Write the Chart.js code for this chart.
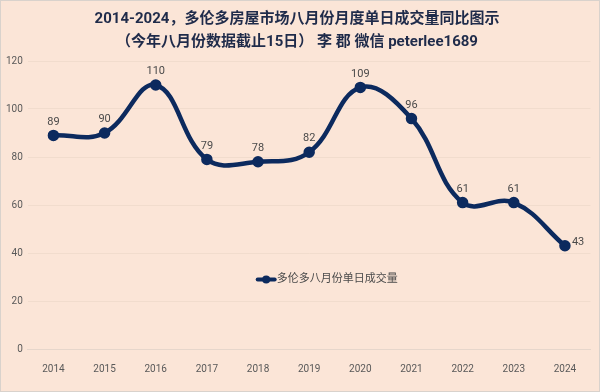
<!DOCTYPE html>
<html><head><meta charset="utf-8">
<script src="https://cdn.jsdelivr.net/npm/chart.js@4"></script>
<style>
html,body{margin:0;padding:0;background:#fbe5d7;}
#wrap{position:absolute;left:0;top:0;width:598px;height:390px;border:1px solid #d9d2cc;background:#fbe5d7;}
canvas{display:block;}
</style></head><body>
<div id="wrap"><canvas id="c" width="598" height="390"></canvas></div>
<script>
const categories = ['2014','2015','2016','2017','2018','2019','2020','2021','2022','2023','2024'];
const seriesValues = [89, 90, 110, 79, 78, 82, 109, 96, 61, 61, 43];
const seriesName = '多伦多八月份单日成交量';
const titleLines = ['2014-2024，多伦多房屋市场八月份月度单日成交量同比图示', '（今年八月份数据截止15日） 李 郡 微信 peterlee1689'];
const yTicks = [0, 20, 40, 60, 80, 100, 120];

const NAVY = '#0c2a5e';
const FONT = "Roboto, 'Liberation Sans', 'Noto Sans CJK SC', sans-serif";

const labelPlugin = {
  id: 'labels',
  afterDatasetsDraw(chart) {
    const ctx = chart.ctx;
    const meta = chart.getDatasetMeta(0);
    ctx.save();
    ctx.font = "11px " + FONT;
    ctx.fillStyle = '#4a4a4a';
    meta.data.forEach((pt, i) => {
      const v = seriesValues[i];
      if (i === seriesValues.length - 1) {
        ctx.textAlign = 'left'; ctx.textBaseline = 'middle';
        ctx.fillText(String(v), pt.x + 7, pt.y - 4);
      } else {
        ctx.textAlign = 'center'; ctx.textBaseline = 'bottom';
        ctx.fillText(String(v), pt.x, pt.y - 8);
      }
    });
    const area = chart.chartArea;
    const yL = chart.scales.y.getPixelForValue(29);
    const tw = ctx.measureText(seriesName).width;
    const total = 20 + tw;
    const x0 = (area.left + area.right) / 2 - total / 2 + 19;
    ctx.strokeStyle = NAVY; ctx.lineWidth = 4; ctx.lineCap = 'round';
    ctx.beginPath(); ctx.moveTo(x0, yL); ctx.lineTo(x0 + 17, yL); ctx.stroke();
    ctx.fillStyle = NAVY;
    ctx.beginPath(); ctx.arc(x0 + 8.5, yL, 4, 0, Math.PI * 2); ctx.fill();
    ctx.fillStyle = '#4a4a4a'; ctx.textAlign = 'left'; ctx.textBaseline = 'middle';
    ctx.fillText(seriesName, x0 + 19, yL);
    ctx.restore();
  }
};

new Chart(document.getElementById('c'), {
  type: 'line',
  data: {
    labels: categories,
    datasets: [{
      label: seriesName,
      data: seriesValues,
      borderColor: NAVY,
      backgroundColor: NAVY,
      borderWidth: 4.5,
      tension: 0.4,
      pointRadius: 3.5,
      pointBackgroundColor: NAVY,
      pointBorderColor: NAVY,
      fill: false
    }]
  },
  options: {
    responsive: false,
    animation: false,
    layout: { padding: { left: 0, right: 6, top: 0, bottom: 10 } },
    plugins: {
      legend: { display: false },
      tooltip: { enabled: false },
      title: {
        display: true,
        text: titleLines,
        color: '#1f2b4a',
        font: { family: FONT, size: 15, weight: 'bold', lineHeight: 1.5 },
        padding: { top: 7, bottom: 8 }
      }
    },
    scales: {
      x: {
        offset: true,
        grid: { display: false },
        border: { color: '#e6d6cb' },
        ticks: { color: '#595959', font: { family: FONT, size: 10 }, padding: 6 }
      },
      y: {
        min: 0, max: 120,
        afterBuildTicks(s) { s.ticks = yTicks.map(v => ({ value: v })); },
        grid: { color: '#f1dccd', lineWidth: 1, drawTicks: false },
        border: { display: false },
        ticks: { color: '#595959', font: { family: FONT, size: 10 }, padding: 5 }
      }
    }
  },
  plugins: [labelPlugin]
});
</script>
</body></html>
